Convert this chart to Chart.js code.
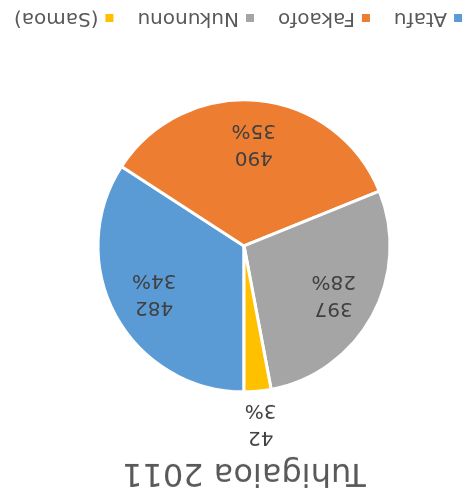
<!DOCTYPE html>
<html lang="en">
<head>
  <meta charset="UTF-8">
  <title>Tuhigaioa 2011</title>
  <script src="https://cdn.jsdelivr.net/npm/chart.js"></script>
  <style>
    body {
      margin: 0;
      background: #fff;
    }
    #wrap {
      width: 471px;
      height: 492px;
      transform: rotate(180deg);
    }
  </style>
</head>
<body>

  <div id="wrap">
    <canvas id="grafico"></canvas>
  </div>

  <script>
    const titolo = 'Tuhigaioa 2011';
    const categorie = ['Atafu', 'Fakaofo', 'Nukunonu', '(Samoa)'];
    const valori = [482, 490, 397, 42];
    const colori = ['#5B9BD5', '#ED7D31', '#A5A5A5', '#FFC000'];

    const totale = valori.reduce((acc, v) => acc + v, 0);
    const FONT = '"DejaVu Sans", sans-serif';

    // etichette: valore sopra, percentuale sotto
    const etichette = {
      id: 'etichette',
      afterDatasetsDraw(chart) {
        const ctx = chart.ctx;
        const meta = chart.getDatasetMeta(0);
        ctx.save();
        ctx.font = '20px ' + FONT;
        ctx.fillStyle = '#404040';
        ctx.textAlign = 'center';
        ctx.textBaseline = 'middle';
        meta.data.forEach((arc, i) => {
          const p = arc.getProps(['x', 'y', 'startAngle', 'endAngle', 'outerRadius'], true);
          const mid = (p.startAngle + p.endAngle) / 2;
          const quota = valori[i] / totale;
          const dist = quota < 0.05 ? p.outerRadius + 33 : p.outerRadius * 0.7;
          const x = p.x + Math.cos(mid) * dist;
          const y = p.y + Math.sin(mid) * dist;
          ctx.fillText(String(valori[i]), x, y - 13);
          ctx.fillText(Math.round(quota * 100) + '%', x, y + 14);
        });
        ctx.restore();
      }
    };

    // legenda in basso
    const legenda = {
      id: 'legenda',
      afterDraw(chart) {
        const ctx = chart.ctx;
        ctx.save();
        ctx.font = '20px ' + FONT;
        ctx.textBaseline = 'middle';
        const box = 8, gapTesto = 7, gapVoce = 24;
        const larghezze = categorie.map(c => ctx.measureText(c).width);
        let tot = larghezze.reduce((a, w) => a + box + gapTesto + w, 0) + gapVoce * (categorie.length - 1);
        let x = 233 - tot / 2;
        const y = 474;
        categorie.forEach((c, i) => {
          ctx.fillStyle = colori[i];
          ctx.fillRect(x, y - box / 2, box, box);
          x += box + gapTesto;
          ctx.fillStyle = '#595959';
          ctx.fillText(c, x, y);
          x += larghezze[i] + gapVoce;
        });
        ctx.restore();
      }
    };

    const ctx = document.getElementById('grafico').getContext('2d');
    const grafico = new Chart(ctx, {
      type: 'pie',
      data: {
        labels: categorie,
        datasets: [{
          data: valori,
          backgroundColor: colori,
          borderColor: '#ffffff',
          borderWidth: 3,
          radius: 146
        }]
      },
      options: {
        responsive: true,
        maintainAspectRatio: false,
        animation: false,
        layout: {
          padding: { top: 0, right: 17, bottom: 39, left: 0 }
        },
        plugins: {
          legend: { display: false },
          tooltip: { enabled: false },
          title: {
            display: true,
            text: titolo,
            color: '#595959',
            font: { family: FONT, size: 32, weight: 'normal', lineHeight: 1.1 },
            padding: { top: 2, bottom: 2 }
          }
        }
      },
      plugins: [etichette, legenda]
    });
  </script>
</body>
</html>
